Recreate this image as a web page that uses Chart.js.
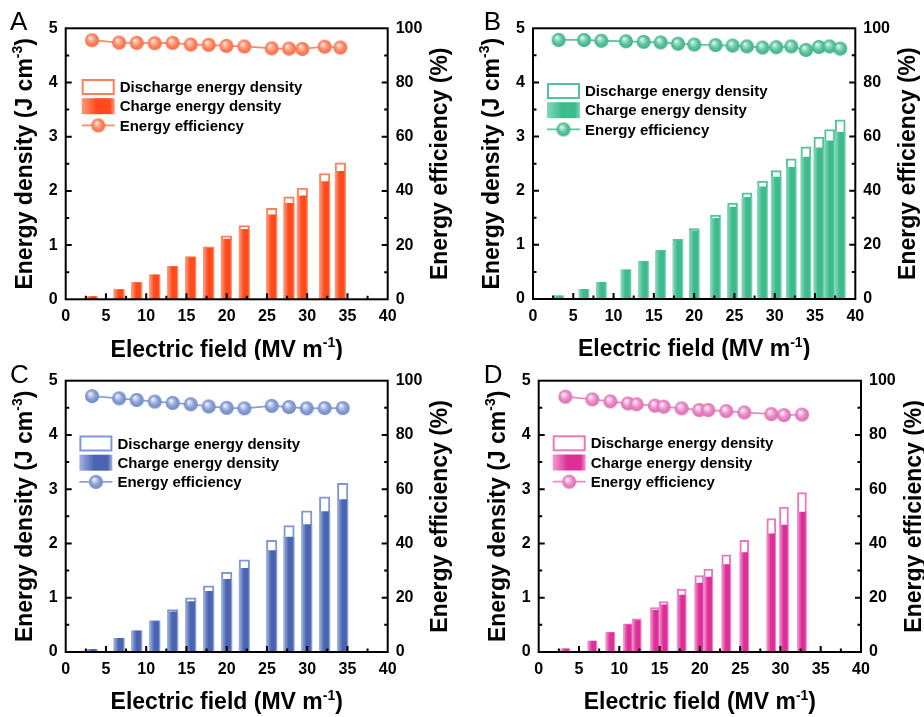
<!DOCTYPE html>
<html>
<head>
<meta charset="utf-8">
<script src="https://cdn.jsdelivr.net/npm/chart.js@4.4.1/dist/chart.umd.min.js"></script>
<style>
  html, body { margin: 0; padding: 0; background: #fff; }
  #wrap { position: relative; width: 924px; height: 717px; overflow: hidden; }
  canvas { position: absolute; }
</style>
</head>
<body>
<div id="wrap">
  <canvas id="chartA" width="462" height="360" style="left:0;top:0"></canvas>
  <canvas id="chartB" width="462" height="360" style="left:462px;top:0"></canvas>
  <canvas id="chartC" width="462" height="357" style="left:0;top:360px"></canvas>
  <canvas id="chartD" width="462" height="357" style="left:462px;top:360px"></canvas>
</div>
<script>
// ---- data ----
const fieldA = [3.27, 6.63, 8.82, 11.06, 13.29, 15.53, 17.76, 19.96, 22.19, 25.59, 27.74, 29.40, 32.17, 34.12];
const dischargeA = [0.05, 0.18, 0.31, 0.45, 0.61, 0.79, 0.97, 1.17, 1.36, 1.68, 1.89, 2.05, 2.32, 2.52];
const chargeA = [0.05, 0.18, 0.31, 0.45, 0.60, 0.77, 0.94, 1.11, 1.29, 1.56, 1.77, 1.91, 2.17, 2.36];
const effA = [95.6, 94.7, 94.6, 94.5, 94.6, 94.0, 93.9, 93.5, 93.3, 92.6, 92.5, 92.4, 93.2, 92.9];

const fieldB = [3.18, 6.33, 8.48, 11.54, 13.73, 15.84, 17.99, 20.02, 22.66, 24.77, 26.55, 28.49, 30.19, 32.05, 33.87, 35.48, 36.81, 38.13];
const dischargeB = [0.06, 0.18, 0.31, 0.54, 0.70, 0.90, 1.10, 1.30, 1.55, 1.77, 1.96, 2.18, 2.37, 2.59, 2.81, 2.99, 3.13, 3.31];
const chargeB = [0.06, 0.18, 0.31, 0.54, 0.69, 0.87, 1.07, 1.26, 1.49, 1.70, 1.88, 2.07, 2.25, 2.43, 2.62, 2.79, 2.92, 3.08];
const effB = [95.7, 95.7, 95.4, 95.2, 95.0, 94.8, 94.3, 94.0, 93.8, 93.6, 93.3, 92.9, 93.0, 93.3, 92.0, 93.1, 93.3, 92.5];

const fieldC = [3.27, 6.63, 8.82, 11.06, 13.29, 15.53, 17.76, 20.0, 22.19, 25.59, 27.74, 29.94, 32.17, 34.41];
const dischargeC = [0.05, 0.25, 0.39, 0.58, 0.78, 1.00, 1.22, 1.47, 1.70, 2.06, 2.33, 2.60, 2.86, 3.11];
const chargeC = [0.05, 0.25, 0.39, 0.56, 0.74, 0.93, 1.12, 1.34, 1.54, 1.87, 2.12, 2.35, 2.59, 2.81];
const effC = [94.3, 93.5, 92.9, 92.3, 91.8, 91.3, 90.5, 90.0, 89.8, 90.7, 90.3, 89.8, 89.9, 89.9];

const fieldD = [3.31, 6.66, 8.89, 11.08, 12.16, 14.43, 15.51, 17.74, 19.93, 21.05, 23.28, 25.52, 28.87, 30.44, 32.67];
const dischargeD = [0.06, 0.20, 0.36, 0.52, 0.61, 0.82, 0.93, 1.16, 1.41, 1.53, 1.79, 2.06, 2.46, 2.67, 2.94];
const chargeD = [0.06, 0.20, 0.36, 0.50, 0.58, 0.77, 0.87, 1.05, 1.27, 1.38, 1.61, 1.83, 2.18, 2.34, 2.58];
const effD = [94.1, 93.1, 92.4, 91.6, 91.3, 90.8, 90.4, 89.8, 89.2, 89.2, 88.8, 88.3, 87.7, 87.3, 87.5];

// axis ranges / tick steps
const xTicks = { min: 0, max: 40, step: 5, minor: 2.5 };
const yTicks = { min: 0, max: 5, step: 1, minor: 0.5 };
const y2Ticks = { min: 0, max: 100, step: 20, minor: 10 };

const legendLabels = ['Discharge energy density', 'Charge energy density', 'Energy efficiency'];

const FONT = '"Liberation Sans", Arial, sans-serif';

// ---- panel styles / layout ----
const panels = [
  { id: 'chartA', letter: 'A', field: fieldA, discharge: dischargeA, charge: chargeA, eff: effA,
    area: { left: 65.7, right: 387.7, top: 28.3, bottom: 299.3 }, letterPos: [10, 30], legendTop: 58.7, legendLeft: 16, barW: 10.5,
    dark: '#ff4a1c', light: '#ff9c7c', outline: '#ff7f58', marker: '#ff8a68', markerEdge: '#f26a48', markerLight: '#ffc8b2' },
  { id: 'chartB', letter: 'B', field: fieldB, discharge: dischargeB, charge: chargeB, eff: effB,
    area: { left: 71, right: 393.3, top: 28.3, bottom: 299 }, letterPos: [21.7, 30], legendTop: 62.7, legendLeft: 14, barW: 10,
    dark: '#3dbb8c', light: '#86d8b8', outline: '#52c39a', marker: '#5cc69e', markerEdge: '#3fae86', markerLight: '#b2e8d2' },
  { id: 'chartC', letter: 'C', field: fieldC, discharge: dischargeC, charge: chargeC, eff: effC,
    area: { left: 65.7, right: 387.7, top: 20.7, bottom: 292 }, letterPos: [10, 23.3], legendTop: 62.8, legendLeft: 13.7, barW: 10.5,
    dark: '#4a64b2', light: '#a2b4e0', outline: '#7f97d4', marker: '#8aa1d6', markerEdge: '#6f88c6', markerLight: '#d0daf2' },
  { id: 'chartD', letter: 'D', field: fieldD, discharge: dischargeD, charge: chargeD, eff: effD,
    area: { left: 76.7, right: 399, top: 20.7, bottom: 292 }, letterPos: [21.7, 23.3], legendTop: 62.6, legendLeft: 14, barW: 9,
    dark: '#de2f98', light: '#f29ad0', outline: '#ea78be', marker: '#e98bc8', markerEdge: '#d96cb2', markerLight: '#fad0e8' }
];

// glossy sphere used as the efficiency marker
function makeSphere(p, r) {
  const c = document.createElement('canvas');
  const s = Math.ceil(r * 2 + 2);
  c.width = c.height = s;
  const g = c.getContext('2d');
  const cx = s / 2, cy = s / 2;
  const grad = g.createRadialGradient(cx - r * 0.3, cy - r * 0.4, 0, cx, cy, r);
  grad.addColorStop(0, '#ffffff');
  grad.addColorStop(0.22, p.markerLight);
  grad.addColorStop(0.6, p.marker);
  grad.addColorStop(1, p.markerEdge);
  g.fillStyle = grad;
  g.beginPath();
  g.arc(cx, cy, r, 0, Math.PI * 2);
  g.fill();
  return c;
}

function barGradient(ctx, p, x0, x1) {
  const g = ctx.createLinearGradient(x0, 0, x1, 0);
  g.addColorStop(0, p.light);
  g.addColorStop(0.45, p.dark);
  g.addColorStop(0.85, p.dark);
  g.addColorStop(1, p.light);
  return g;
}

// text made of pieces, some of them superscript
function drawRich(ctx, parts, size) {
  const supSize = Math.round(size * 0.6);
  let w = 0;
  parts.forEach(pt => {
    ctx.font = 'bold ' + (pt.sup ? supSize : size) + 'px ' + FONT;
    pt.w = ctx.measureText(pt.t).width;
    w += pt.w;
  });
  let x = -w / 2;
  parts.forEach(pt => {
    ctx.font = 'bold ' + (pt.sup ? supSize : size) + 'px ' + FONT;
    ctx.fillText(pt.t, x, pt.sup ? -size * 0.42 : 0);
    x += pt.w;
  });
}

const decor = {
  id: 'decor',
  afterDatasetsDraw(chart, args, opts) {
    const p = opts.panel;
    const ctx = chart.ctx;
    const { left, right, top, bottom } = chart.chartArea;
    const sx = chart.scales.x, sy = chart.scales.y, sy2 = chart.scales.y2;
    ctx.save();
    ctx.strokeStyle = '#000';
    ctx.fillStyle = '#000';

    // inward ticks
    ctx.lineWidth = 2;
    ctx.beginPath();
    for (let v = yTicks.min + yTicks.minor; v < yTicks.max; v += yTicks.minor) {
      const py = sy.getPixelForValue(v);
      const len = Math.abs(v % yTicks.step) < 1e-6 ? 6 : 3.5;
      ctx.moveTo(left, py); ctx.lineTo(left + len, py);
    }
    for (let v = y2Ticks.min + y2Ticks.minor; v < y2Ticks.max; v += y2Ticks.minor) {
      const py = sy2.getPixelForValue(v);
      const len = Math.abs(v % y2Ticks.step) < 1e-6 ? 6 : 3.5;
      ctx.moveTo(right, py); ctx.lineTo(right - len, py);
    }
    for (let v = xTicks.min + xTicks.minor; v < xTicks.max; v += xTicks.minor) {
      const px = sx.getPixelForValue(v);
      const len = Math.abs(v % xTicks.step) < 1e-6 ? 6 : 3.5;
      ctx.moveTo(px, bottom); ctx.lineTo(px, bottom - len);
    }
    ctx.stroke();

    // frame
    ctx.lineWidth = 2;
    ctx.strokeRect(left, top, right - left, bottom - top);

    // legend
    const lx = left + p.legendLeft, bw = 33, bh = 16, gap = 19.2;
    const rowY = [0, 1, 2].map(i => top + p.legendTop + i * gap);
    ctx.fillStyle = '#fff';
    ctx.fillRect(lx, rowY[0] - bh / 2, bw, bh);
    ctx.strokeStyle = p.outline;
    ctx.lineWidth = 2;
    ctx.strokeRect(lx + 1, rowY[0] - bh / 2 + 1, bw - 2, bh - 2);
    ctx.fillStyle = barGradient(ctx, p, lx, lx + bw);
    ctx.fillRect(lx, rowY[1] - bh / 2, bw, bh);
    ctx.strokeStyle = p.marker;
    ctx.lineWidth = 1.8;
    ctx.beginPath();
    ctx.moveTo(lx, rowY[2]); ctx.lineTo(lx + bw, rowY[2]);
    ctx.stroke();
    const sph = opts.sphere;
    ctx.drawImage(sph, lx + bw / 2 - sph.width / 2, rowY[2] - sph.height / 2);
    ctx.fillStyle = '#000';
    ctx.font = 'bold 15px ' + FONT;
    ctx.textBaseline = 'middle';
    legendLabels.forEach((t, i) => ctx.fillText(t, lx + bw + 5, rowY[i] + 1));

    // axis titles
    ctx.textBaseline = 'alphabetic';
    ctx.save();
    ctx.translate((left + right) / 2, bottom + 57.4);
    drawRich(ctx, [{ t: 'Electric field (MV m' }, { t: '-1', sup: true }, { t: ')' }], 23);
    ctx.restore();

    ctx.save();
    ctx.translate(left - 34, (top + bottom) / 2);
    ctx.rotate(-Math.PI / 2);
    drawRich(ctx, [{ t: 'Energy density (J cm' }, { t: '-3', sup: true }, { t: ')' }], 23);
    ctx.restore();

    ctx.save();
    ctx.translate(right + 59.5, (top + bottom) / 2);
    ctx.rotate(-Math.PI / 2);
    drawRich(ctx, [{ t: 'Energy efficiency (%)' }], 23);
    ctx.restore();

    // panel letter
    ctx.font = '26px ' + FONT;
    ctx.textAlign = 'left';
    ctx.fillText(p.letter, p.letterPos[0], p.letterPos[1]);
    ctx.restore();
  }
};

function buildChart(p) {
  const canvas = document.getElementById(p.id);
  const W = canvas.width, H = canvas.height;
  const sphere = makeSphere(p, 7);
  const pts = (ys) => p.field.map((x, i) => ({ x: x, y: ys[i] }));
  const tickFont = { family: FONT, size: 16, weight: 'bold' };

  new Chart(canvas, {
    type: 'bar',
    data: {
      datasets: [
        {
          type: 'line', label: legendLabels[2], data: pts(p.eff), yAxisID: 'y2', order: 0,
          borderColor: p.marker, borderWidth: 1.8, pointStyle: sphere, pointRadius: 7, pointHoverRadius: 7,
          fill: false, tension: 0
        },
        {
          label: legendLabels[1], data: pts(p.charge), yAxisID: 'y', order: 1, grouped: false,
          barThickness: p.barW, borderWidth: 0,
          backgroundColor: (c) => {
            const ch = c.chart;
            if (!ch.chartArea || !c.raw) return p.dark;
            const px = ch.scales.x.getPixelForValue(c.raw.x);
            return barGradient(ch.ctx, p, px - p.barW / 2, px + p.barW / 2);
          }
        },
        {
          label: legendLabels[0], data: pts(p.discharge), yAxisID: 'y', order: 2, grouped: false,
          barThickness: p.barW, backgroundColor: '#ffffff', borderColor: p.outline, borderWidth: 2,
          borderSkipped: 'start'
        }
      ]
    },
    options: {
      responsive: false,
      animation: false,
      devicePixelRatio: 1,
      layout: { padding: { left: 0, right: 0, top: p.area.top, bottom: 0 } },
      plugins: {
        legend: { display: false },
        tooltip: { enabled: false },
        decor: { panel: p, sphere: sphere }
      },
      scales: {
        x: {
          type: 'linear', offset: false, min: xTicks.min, max: xTicks.max,
          grid: { display: false, drawTicks: false }, border: { display: false },
          ticks: { stepSize: xTicks.step, font: tickFont, color: '#000', padding: 8, maxRotation: 0, autoSkip: false },
          afterFit: (s) => { s.height = H - p.area.bottom; }
        },
        y: {
          position: 'left', min: yTicks.min, max: yTicks.max,
          grid: { display: false, drawTicks: false }, border: { display: false },
          ticks: { stepSize: yTicks.step, font: tickFont, color: '#000', padding: 8 },
          afterFit: (s) => { s.width = p.area.left; }
        },
        y2: {
          position: 'right', min: y2Ticks.min, max: y2Ticks.max,
          grid: { display: false, drawTicks: false }, border: { display: false },
          ticks: { stepSize: y2Ticks.step, font: tickFont, color: '#000', padding: 8 },
          afterFit: (s) => { s.width = W - p.area.right; }
        }
      }
    },
    plugins: [decor]
  });
}

panels.forEach(buildChart);
</script>
</body>
</html>
